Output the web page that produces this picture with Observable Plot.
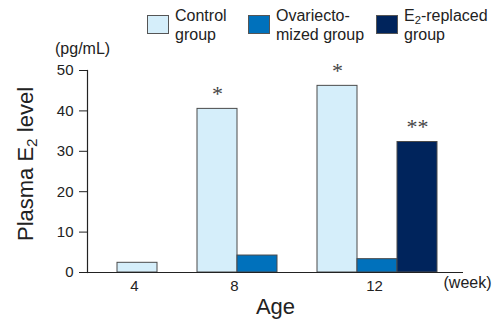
<!DOCTYPE html>
<html>
<head>
<meta charset="utf-8">
<script src="https://cdn.jsdelivr.net/npm/d3@7"></script>
<script src="https://cdn.jsdelivr.net/npm/@observablehq/plot@0.6"></script>
<style>
  html, body { margin: 0; padding: 0; background: #fff; }
  #wrap { position: relative; width: 493px; height: 319px; font-family: "Liberation Sans", Arial, sans-serif; color: #222; }
  #wrap svg { position: absolute; left: 0; top: 0; }
  .lg { position: absolute; top: 6px; font-size: 16px; line-height: 19px; }
  .sw { position: absolute; top: 9px; left: 0; width: 20px; height: 17px; border: 1px solid #555; }
  .lt { position: absolute; left: 28px; top: 0; white-space: nowrap; }
  #ytitle { position: absolute; left: 26px; top: 164px; font-size: 22px; line-height: 22px; white-space: nowrap; transform: translate(-50%, -50%) rotate(-90deg); }
  #unit { position: absolute; left: 55px; top: 39px; font-size: 16px; line-height: 19px; }
  sub { font-size: 70%; vertical-align: -0.25em; line-height: 0; }
</style>
</head>
<body>
<div id="wrap"></div>
<script>
// ---- data ----
const weeks = ["4", "8", "12"];
const groups = ["Control group", "Ovariectomized group", "E2-replaced group"];
const control = [2.4, 40.5, 46.2];
const ovariectomized = [null, 4.2, 3.3];
const e2replaced = [null, null, 32.3];
const colors = ["#d5eefa", "#0071bc", "#00245c"];
const yTicks = [0, 10, 20, 30, 40, 50];
const sigWeeks = ["8", "12", "12"];
const sigGroups = ["Control group", "Control group", "E2-replaced group"];
const sigLabels = ["*", "*", "**"];

// ---- build table ----
const series = [control, ovariectomized, e2replaced];
const rows = [];
const slots = [];
weeks.forEach((w, i) => {
  if (i > 0) slots.push("gap" + i);
  groups.forEach((g, j) => {
    const v = series[j][i];
    if (v != null) {
      const slot = w + "|" + g;
      slots.push(slot);
      rows.push({week: w, group: g, slot, value: v});
    }
  });
});
const weekSlots = weeks.map(w => rows.filter(r => r.week === w).map(r => r.slot));
const oddTicks = weeks.map((w, i) => ({w, s: weekSlots[i]})).filter(d => d.s.length % 2 === 1)
  .map(d => ({label: d.w, slot: d.s[(d.s.length - 1) / 2]}));
const evenTicks = weeks.map((w, i) => ({w, s: weekSlots[i]})).filter(d => d.s.length % 2 === 0)
  .map(d => ({label: d.w, slot: d.s[d.s.length / 2 - 1]}));
const sig = sigLabels.map((l, i) => {
  const r = rows.find(r => r.week === sigWeeks[i] && r.group === sigGroups[i]);
  return {label: l, slot: r.slot, value: r.value};
});

const chart = Plot.plot({
  width: 493,
  height: 319,
  marginLeft: 87,
  marginRight: 30,
  marginTop: 70,
  marginBottom: 47,
  style: {fontFamily: "'Liberation Sans', Arial, sans-serif", fontSize: "15px", color: "#222", background: "transparent"},
  x: {domain: slots, padding: 0, insetLeft: 27, insetRight: 24, axis: null},
  y: {domain: [0, 50], axis: null},
  color: {domain: groups, range: colors},
  marks: [
    Plot.barY(rows, {x: "slot", y: "value", fill: "group", stroke: "#4a4a4a", strokeWidth: 1}),
    Plot.ruleY([0], {stroke: "#222", strokeWidth: 1.2}),
    Plot.axisY({ticks: yTicks, tickSize: 8, tickPadding: 6, fontSize: 15, label: null, stroke: "#222"}),
    Plot.frame({anchor: "left", stroke: "#222", strokeWidth: 1.2}),
    Plot.text(oddTicks, {x: "slot", text: "label", frameAnchor: "bottom", lineAnchor: "bottom", dy: 18, dx: -3, fontSize: 15}),
    Plot.text(evenTicks, {x: "slot", text: "label", frameAnchor: "bottom", lineAnchor: "bottom", dy: 18, dx: 17, fontSize: 15}),
    Plot.text(["(week)"], {frameAnchor: "bottom-right", textAnchor: "start", lineAnchor: "bottom", dx: -20, dy: 15, fontSize: 16}),
    Plot.text(["Age"], {frameAnchor: "bottom", lineAnchor: "bottom", dy: 41, fontSize: 22}),
    Plot.text(sig, {x: "slot", y: "value", text: "label", lineAnchor: "bottom", dy: -8, fontSize: 22, fontFamily: "'Liberation Serif', 'Times New Roman', serif", fill: "#444"})
  ]
});

const wrap = document.getElementById("wrap");
wrap.appendChild(chart);

// legend
const legendLeft = [147, 248, 376];
const legendHtml = ["Control<br>group", "Ovariecto-<br>mized group", "E<sub>2</sub>-replaced<br>group"];
groups.forEach((g, i) => {
  const d = document.createElement("div");
  d.className = "lg";
  d.style.left = legendLeft[i] + "px";
  d.innerHTML = `<div class="sw" style="background:${colors[i]}"></div><div class="lt">${legendHtml[i]}</div>`;
  wrap.appendChild(d);
});
const yt = document.createElement("div");
yt.id = "ytitle";
yt.innerHTML = "Plasma E<sub>2</sub> level";
wrap.appendChild(yt);
const un = document.createElement("div");
un.id = "unit";
un.textContent = "(pg/mL)";
wrap.appendChild(un);
</script>
</body>
</html>
